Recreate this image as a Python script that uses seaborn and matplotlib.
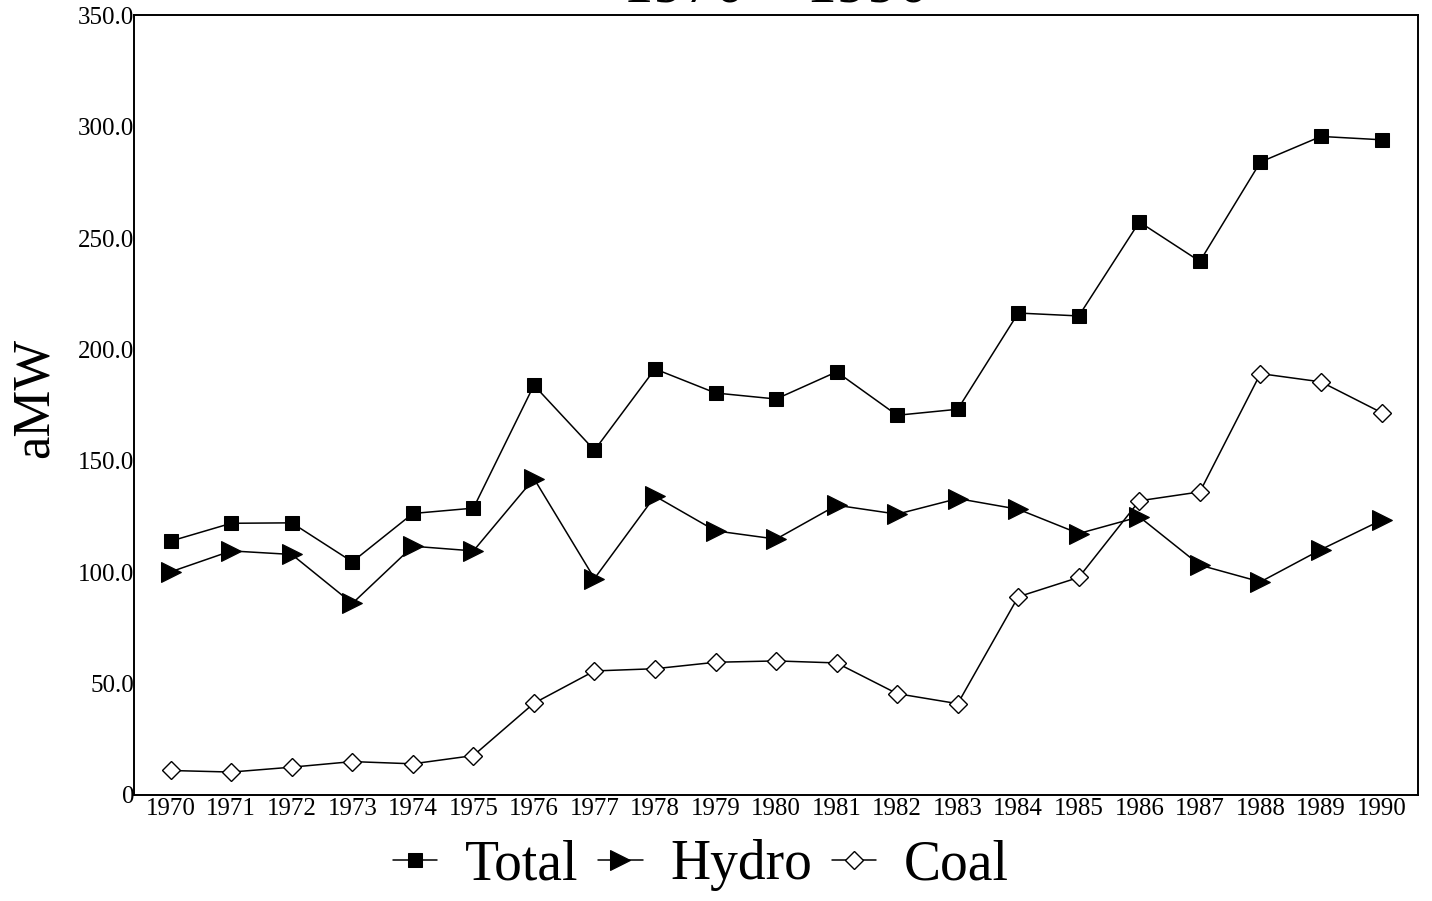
import matplotlib
matplotlib.use("Agg")
import matplotlib.pyplot as plt
import pandas as pd
import seaborn as sns

# data (aMW)
years = list(range(1970, 1991))
total = [114.0, 122.0, 122.2, 104.7, 126.4, 128.8, 184.0, 154.8, 191.3, 180.5, 177.8,
         190.0, 170.5, 173.2, 216.4, 215.1, 257.3, 239.6, 284.2, 295.7, 294.2]
hydro = [100.2, 109.6, 108.0, 86.0, 111.7, 109.6, 142.1, 97.2, 134.2, 118.6, 114.9,
         130.1, 126.1, 133.1, 128.3, 117.4, 124.9, 103.2, 95.7, 110.2, 123.4]
coal = [11.0, 10.3, 12.5, 15.0, 14.0, 17.7, 41.2, 55.7, 56.7, 59.6, 60.2,
        59.3, 45.5, 41.0, 89.0, 97.7, 132.1, 136.1, 189.2, 185.5, 171.7]

y_ticks = [0, 50, 100, 150, 200, 250, 300, 350]
y_tick_labels = ["0", "50.0", "100.0", "150.0", "200.0", "250.0", "300.0", "350.0"]
title_text = "1970 \u2013 1990"

df = pd.DataFrame({"year": years, "Total": total, "Hydro": hydro, "Coal": coal})

sns.set_style("white")
plt.rcParams["font.family"] = ["Liberation Serif", "DejaVu Serif"]
plt.rcParams["text.color"] = "black"
plt.rcParams["axes.labelcolor"] = "black"

fig = plt.figure(figsize=(14.32, 9.01), dpi=100)
ax = fig.add_axes([0.09358, 0.11765, 0.89665, 0.86515])

line_kw = dict(color="black", linewidth=1.1, markeredgecolor="black")
sns.lineplot(data=df, x="year", y="Total", ax=ax, marker="s", markersize=10.5,
             markerfacecolor="black", label="Total", **line_kw)
sns.lineplot(data=df, x="year", y="Hydro", ax=ax, marker=">", markersize=14,
             markerfacecolor="black", label="Hydro", **line_kw)
sns.lineplot(data=df, x="year", y="Coal", ax=ax, marker="D", markersize=9,
             markerfacecolor="white", markeredgewidth=1.0, label="Coal", **line_kw)

ax.set_xlim(1969.394, 1990.603)
ax.set_ylim(0, 350)
ax.set_xticks(years)
ax.set_xticklabels([str(y) for y in years], fontsize=18)
ax.set_yticks(y_ticks)
ax.set_yticklabels(y_tick_labels, fontsize=18)
ax.tick_params(axis="x", direction="in", length=9.5, width=1.0, pad=2, colors="black")
ax.tick_params(axis="y", direction="in", length=12, width=1.0, pad=0, colors="black")
ax.set_xlabel("")
ax.set_ylabel("aMW", fontsize=38)
ax.yaxis.set_label_coords(-0.059, 0.51)

for side in ["left", "right", "top", "bottom"]:
    ax.spines[side].set_visible(True)
    ax.spines[side].set_color("black")
    ax.spines[side].set_linewidth(1.4)

handles, labels = ax.get_legend_handles_labels()
ax.get_legend().remove()
fig.legend(handles, labels, loc="center", bbox_to_anchor=(701 / 1432, 1 - 865 / 901),
           ncol=3, frameon=False, fontsize=40, handlelength=0.8, handletextpad=0.5,
           columnspacing=0.35, borderpad=0)

# title mostly cropped off the top edge of the scan
fig.text(776 / 1432, 1 - 2 / 901, title_text, ha="center", va="baseline", fontsize=44)

fig.savefig("out.png", dpi=100)
